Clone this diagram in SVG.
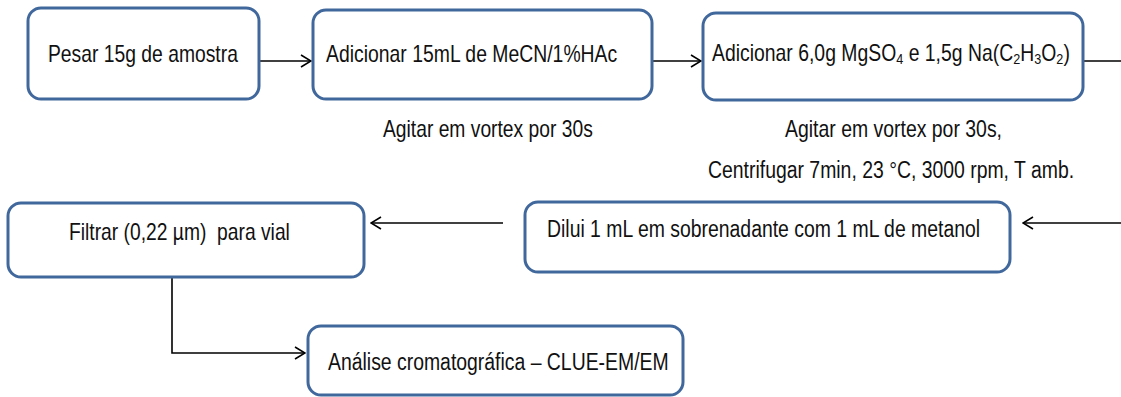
<svg xmlns="http://www.w3.org/2000/svg" width="1121" height="397" viewBox="0 0 1121 397">
<style>
.box{fill:#ffffff;stroke:#41689c;stroke-width:3}
.t{font-family:"Liberation Sans",Arial,sans-serif;font-size:23px;fill:#111111}
.sub{font-size:15px}
.c{fill:none;stroke:#000000;stroke-width:1.6}
</style>
<defs>
<marker id="arr" viewBox="0 0 12 14" refX="11" refY="7" markerWidth="12" markerHeight="14" markerUnits="userSpaceOnUse" orient="auto">
<path d="M1,1 L11,7 L1,13" fill="none" stroke="#000000" stroke-width="1.6"/>
</marker>
</defs>
<rect width="1121" height="397" fill="#ffffff"/>
<g id="connectors">
<line class="c" x1="259" y1="61" x2="311" y2="61" marker-end="url(#arr)"/>
<line class="c" x1="652" y1="61" x2="701" y2="61" marker-end="url(#arr)"/>
<line class="c" x1="1083" y1="61" x2="1121" y2="61"/>
<line class="c" x1="1121" y1="223" x2="1023" y2="223" marker-end="url(#arr)"/>
<line class="c" x1="503" y1="223" x2="371" y2="223" marker-end="url(#arr)"/>
<polyline class="c" points="172,277 172,353 305,353" marker-end="url(#arr)"/>
</g>
<g id="n1">
<rect class="box" x="28" y="8" width="231" height="91" rx="13"/>
<text class="t" transform="translate(48,62) scale(0.84,1)">Pesar 15g de amostra</text>
</g>
<g id="n2">
<rect class="box" x="313" y="10" width="339" height="89" rx="13"/>
<text class="t" transform="translate(326,62) scale(0.843,1)">Adicionar 15mL de MeCN/1%HAc</text>
</g>
<g id="n3">
<rect class="box" x="703" y="13" width="380" height="87" rx="13"/>
<text class="t" transform="translate(712,61) scale(0.843,1)">Adicionar 6,0g MgSO<tspan class="sub" dy="3">4</tspan><tspan dy="-3"> e 1,5g Na(C</tspan><tspan class="sub" dy="3">2</tspan><tspan dy="-3">H</tspan><tspan class="sub" dy="3">3</tspan><tspan dy="-3">O</tspan><tspan class="sub" dy="3">2</tspan><tspan dy="-3">)</tspan></text>
</g>
<g id="label1">
<text class="t" transform="translate(383,137) scale(0.838,1)">Agitar em vortex por 30s</text>
</g>
<g id="label2">
<text class="t" transform="translate(785,137) scale(0.845,1)">Agitar em vortex por 30s,</text>
<text class="t" transform="translate(708,178) scale(0.844,1)">Centrifugar 7min, 23 °C, 3000 rpm, T amb.</text>
</g>
<g id="n4">
<rect class="box" x="8" y="203" width="356" height="74" rx="13"/>
<text class="t" transform="translate(69,240) scale(0.838,1)" xml:space="preserve">Filtrar (0,22 µm)  para vial</text>
</g>
<g id="n5">
<rect class="box" x="525" y="202" width="485" height="70" rx="13"/>
<text class="t" transform="translate(547,237) scale(0.844,1)">Dilui 1 mL em sobrenadante com 1 mL de metanol</text>
</g>
<g id="n6">
<rect class="box" x="308" y="326" width="375" height="69" rx="13"/>
<text class="t" transform="translate(328,370) scale(0.844,1)">Análise cromatográfica – CLUE-EM/EM</text>
</g>
</svg>
